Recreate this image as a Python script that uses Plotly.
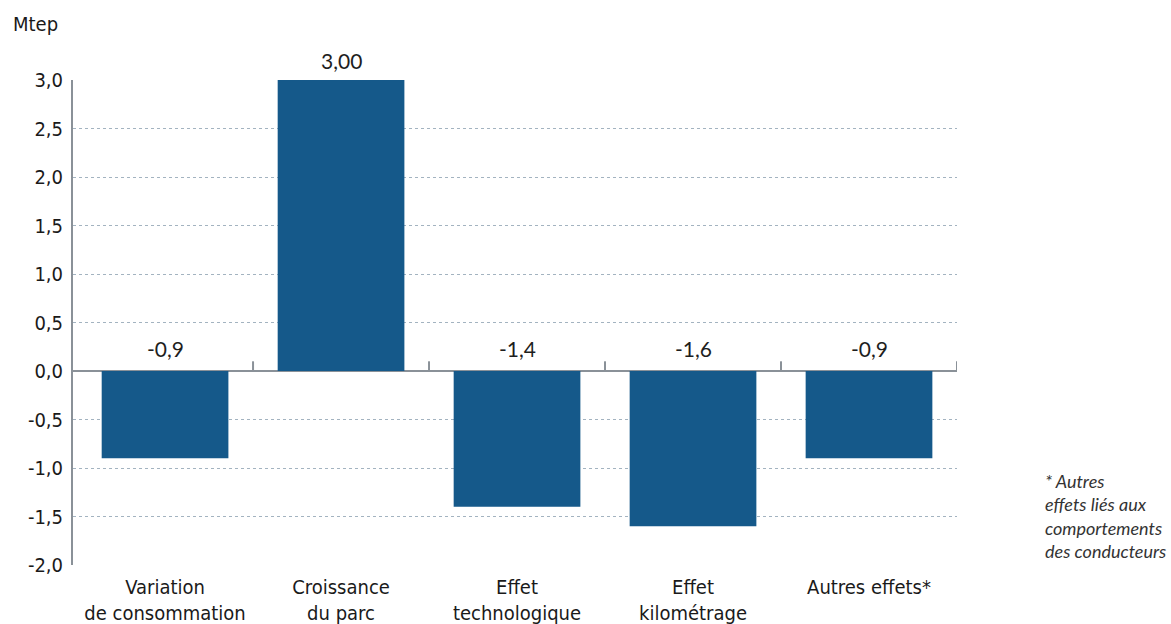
import plotly.graph_objects as go

# Décomposition de la variation de consommation (Mtep)
categories = ["Variation<br>de consommation", "Croissance<br>du parc", "Effet<br>technologique",
              "Effet<br>kilométrage", "Autres effets*"]
values = [-0.9, 3.00, -1.4, -1.6, -0.9]
value_labels = ["-0,9", "3,00", "-1,4", "-1,6", "-0,9"]
y_ticks = [3.0, 2.5, 2.0, 1.5, 1.0, 0.5, 0.0, -0.5, -1.0, -1.5, -2.0]
y_tick_text = ["3,0", "2,5", "2,0", "1,5", "1,0", "0,5", "0,0", "-0,5", "-1,0", "-1,5", "-2,0"]

BAR = "#15598a"
AXIS = "#8a9198"
GRID = "#a3b3c0"
TICK_FONT = "DejaVu Sans Condensed, Roboto, sans-serif"
LABEL_FONT = "Lato"

xs = list(range(len(categories)))

fig = go.Figure()
fig.add_trace(go.Bar(
    x=xs, y=values, width=0.72,
    marker=dict(color=BAR, line=dict(width=0)),
    hoverinfo="skip",
))

# value labels: above the bar for positives, just above the zero line for negatives
for xi, v, t in zip(xs, values, value_labels):
    fig.add_annotation(
        x=xi, y=max(v, 0), text=t, showarrow=False,
        yanchor="bottom", yshift=5 if v > 0 else 8,
        font=dict(family=LABEL_FONT, size=21, color="#1e1e1e"),
    )

# small category separators rising from the zero line
for xi in xs:
    fig.add_shape(type="line", xref="x", yref="y",
                  x0=xi + 0.5, x1=xi + 0.5, y0=0, y1=0.1,
                  line=dict(color=AXIS, width=2))

fig.add_annotation(
    xref="paper", yref="paper", x=-0.07, y=1.115, xanchor="left", yanchor="middle",
    text="Mtep", showarrow=False,
    font=dict(family=TICK_FONT, size=20, color="#1a1a1a"),
)
fig.add_annotation(
    xref="paper", yref="paper", x=1.097, y=0.101, xanchor="left", yanchor="middle",
    align="left", showarrow=False,
    text="<i>* Autres<br>effets liés aux<br>comportements<br>des conducteurs</i>",
    font=dict(family=LABEL_FONT, size=18, color="#333333"),
)

fig.update_layout(
    width=1171, height=624,
    margin=dict(l=73, r=214, t=80, b=59),
    plot_bgcolor="white", paper_bgcolor="white",
    showlegend=False,
)
fig.update_xaxes(
    range=[-0.523, 4.5], tickvals=xs, ticktext=categories,
    showline=False, showgrid=False, zeroline=False, ticks="",
    ticklabelstandoff=8, automargin=False,
    tickfont=dict(family=TICK_FONT, size=20, color="#1a1a1a"),
)
fig.update_yaxes(
    range=[-2.0, 3.0], tickvals=y_ticks, ticktext=y_tick_text,
    showline=True, linecolor=AXIS, linewidth=2,
    showgrid=True, gridcolor=GRID, griddash="dot", gridwidth=1,
    zeroline=True, zerolinecolor=AXIS, zerolinewidth=2,
    ticks="", ticklabelstandoff=4, automargin=False,
    tickfont=dict(family=TICK_FONT, size=20, color="#1a1a1a"),
)

fig.write_html("out.html")
